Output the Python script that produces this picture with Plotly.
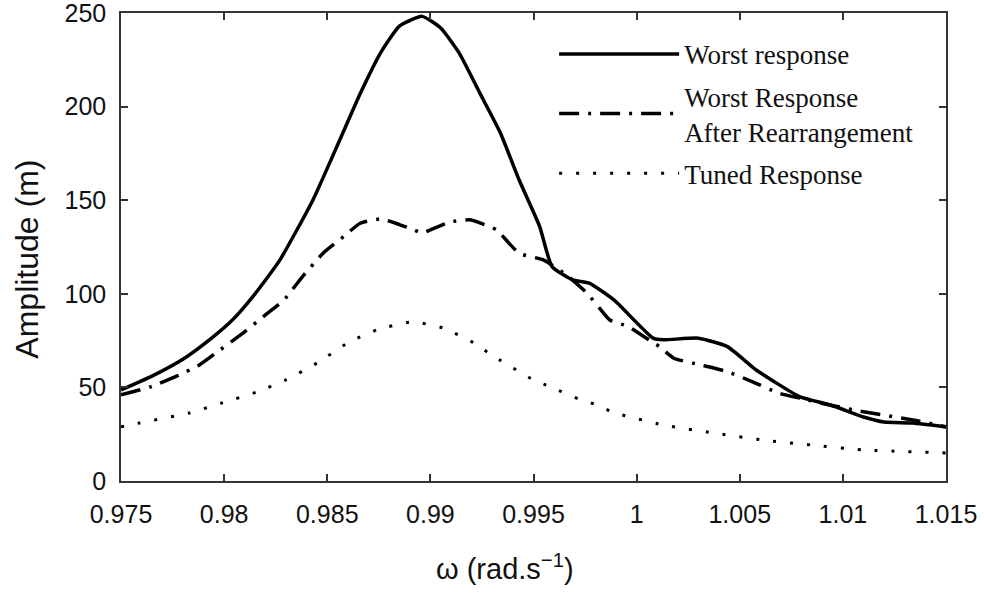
import plotly.graph_objects as go

# Frequency (rad/s) and amplitude (m) for each response curve
omega_worst = [0.975, 0.9765, 0.978, 0.9793, 0.9804, 0.9815, 0.9827, 0.9843, 0.9856,
               0.9866, 0.9876, 0.9885, 0.9896, 0.9905, 0.9914, 0.9924, 0.9934, 0.9943,
               0.9953, 0.9959, 0.9969, 0.9977, 0.9989, 1.0008, 1.0013, 1.0030, 1.0044,
               1.0058, 1.0079, 1.0094, 1.0110, 1.0120, 1.0134, 1.015]
amp_worst = [48.6, 56, 65, 75.5, 86, 100, 118, 150, 182,
             207, 229, 243, 248.2, 242, 228.6, 207.2, 185.8, 160.9,
             135.9, 114.5, 107.4, 105.7, 96.7, 76.3, 75.4, 76.3, 71.8,
             59.3, 45.1, 40.6, 34.2, 31.5, 31, 28.9]

omega_rearr = [0.975, 0.9764, 0.9777, 0.9788, 0.9798, 0.9808, 0.9820, 0.9829, 0.9838,
               0.9848, 0.9858, 0.9866, 0.9876, 0.9885, 0.9892, 0.9896, 0.9900, 0.9910,
               0.9919, 0.9924, 0.9932, 0.9943, 0.9955, 0.9966, 0.9976, 0.9982, 0.9987,
               0.9996, 1.0006, 1.0011, 1.0018, 1.0031, 1.0044, 1.0056, 1.0069, 1.0080,
               1.0094, 1.0110, 1.0134, 1.015]
amp_rearr = [46, 50.2, 56, 62, 70, 78, 88.7, 96.7, 109.2,
             121.7, 130.6, 137.7, 140, 137, 134.2, 132.4, 134.2, 138.5,
             139.5, 137.9, 134.2, 121.7, 118, 110, 100.3, 92.3, 86,
             82.5, 75.4, 71.8, 65.6, 62, 58.4, 53.1, 46.9, 44,
             40.5, 37, 32.6, 28.9]

omega_tuned = [0.975, 0.9759, 0.9783, 0.9799, 0.9816, 0.9830, 0.9845, 0.9860, 0.9874,
               0.9891, 0.9906, 0.9921, 0.9929, 0.9950, 0.9958, 0.9973, 0.9981, 0.9988,
               1.0013, 1.0037, 1.0061, 1.0085, 1.0110, 1.015]
amp_tuned = [28.9, 31, 36.3, 41.7, 47.6, 54, 63, 73.8, 80.7,
             85, 81.8, 73.8, 67.8, 54, 50.4, 43.3, 40.6, 36.9,
             29.9, 25.7, 21.9, 19.2, 16.6, 15]

x_ticks = [0.975, 0.98, 0.985, 0.99, 0.995, 1.0, 1.005, 1.01, 1.015]
x_tick_text = ["0.975", "0.98", "0.985", "0.99", "0.995", "1", "1.005", "1.01", "1.015"]
y_ticks = [0, 50, 100, 150, 200, 250]

sans = "Liberation Sans, Arial, sans-serif"
serif = "Liberation Serif, Times New Roman, serif"
ink = "#111111"

fig = go.Figure()
fig.add_trace(go.Scatter(
    x=omega_worst, y=amp_worst, mode="lines", name="Worst response",
    legendgroup="a",
    line=dict(color="black", width=3.5, shape="spline", smoothing=0.5)))
fig.add_trace(go.Scatter(
    x=omega_rearr, y=amp_rearr, mode="lines",
    name="Worst Response<br>After Rearrangement",
    legendgroup="b",
    line=dict(color="black", width=3.5, dash="20px,9px,3px,9px",
              shape="spline", smoothing=0.5)))
fig.add_trace(go.Scatter(
    x=omega_tuned, y=amp_tuned, mode="lines", name="Tuned Response",
    legendgroup="c",
    line=dict(color="black", width=3, dash="3px,14px", shape="spline", smoothing=0.5)))

axis_common = dict(
    showline=True, linecolor="#333333", linewidth=1.5, mirror="ticks",
    ticks="inside", ticklen=7, tickwidth=1.5, tickcolor="#333333",
    showgrid=False, zeroline=False, ticklabeloverflow="allow", automargin=False,
    tickfont=dict(family=sans, size=25, color=ink),
)

fig.update_xaxes(range=[0.975, 1.015], tickvals=x_ticks, ticktext=x_tick_text,
                 ticklabelstandoff=10, **axis_common)
fig.update_yaxes(range=[0, 250], tickvals=y_ticks, ticklabelstandoff=8, **axis_common)

# Axis titles
fig.add_annotation(text="ω (rad.s<sup>−1</sup>)", xref="paper", yref="paper",
                   x=0.4655, y=-0.184, xanchor="center", yanchor="middle",
                   showarrow=False, font=dict(family=sans, size=29, color=ink))
fig.add_annotation(text="Amplitude (m)", xref="paper", yref="paper",
                   x=-0.114, y=0.475, xanchor="center", yanchor="middle",
                   textangle=-90, showarrow=False,
                   font=dict(family=sans, size=32, color=ink))

fig.update_layout(
    width=984, height=594,
    margin=dict(l=121, r=38, t=13, b=113, autoexpand=False),
    paper_bgcolor="white", plot_bgcolor="white",
    showlegend=True,
    legend=dict(
        x=0.525, y=0.964, xanchor="left", yanchor="top",
        bgcolor="rgba(0,0,0,0)", borderwidth=0,
        font=dict(family=serif, size=27, color=ink),
        itemwidth=120, tracegroupgap=4,
        traceorder="grouped",
    ),
)

fig.write_html("out.html")
